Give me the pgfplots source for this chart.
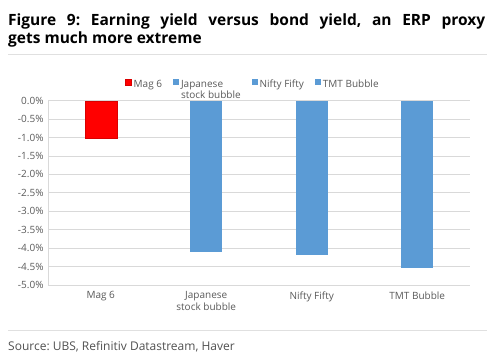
\documentclass[border=0pt]{standalone}
\usepackage{pgfplots}
\pgfplotsset{compat=1.18}
\usepackage{fontspec}
\setmainfont{Open Sans}
\frenchspacing
\definecolor{barblue}{HTML}{5B9BD5}
\definecolor{barred}{HTML}{FF0000}
\definecolor{gridgray}{HTML}{D9D9D9}
\definecolor{txtgray}{HTML}{595959}
\definecolor{rulegray}{HTML}{E0E0E0}
\begin{document}
\begin{tikzpicture}[x=1bp,y=1bp]
\path[use as bounding box] (0,0) rectangle (500,-362);
% title
\node[anchor=base west,inner sep=0pt] at (8,-25) {\fontsize{15.5bp}{18bp}\selectfont\bfseries\makebox[477bp][s]{Figure 9: Earning yield versus bond yield, an ERP proxy}};
\node[anchor=base west,inner sep=0pt] at (8,-43) {\fontsize{15.5bp}{18bp}\selectfont\bfseries gets much more extreme};
\draw[rulegray,line width=1bp] (8,-54) -- (487,-54);
\draw[rulegray,line width=1bp] (8,-330) -- (487,-330);
\node[anchor=base west,inner sep=0pt,text=txtgray!90!black] at (8,-350) {\fontsize{12bp}{14bp}\selectfont Source: UBS, Refinitiv Datastream, Haver};
\begin{axis}[
  at={(48bp,-100.7bp)}, anchor=north west,
  width=422bp, height=184.3bp, scale only axis,
  xmin=-0.5, xmax=3.5, ymin=-5, ymax=0,
  ytick={-5,-4.5,...,0},
  yticklabel={\pgfmathprintnumber[fixed,fixed zerofill,precision=1]{\tick}\%},
  /pgf/number format/assume math mode=true,
  xtick={0,1,2,3},
  xticklabels={Mag 6,{Japanese\\stock bubble},Nifty Fifty,TMT Bubble},
  xticklabel style={align=center,font=\fontsize{10bp}{11.5bp}\selectfont,text=txtgray,anchor=north,yshift=-3bp},
  xticklabel pos=lower,
  yticklabel style={font=\fontsize{10bp}{12bp}\selectfont,text=txtgray,xshift=-1bp},
  ymajorgrids, grid style={gridgray,line width=0.8bp},
  major tick length=0pt,
  axis line style={draw=none},
  ybar, bar width=32bp, bar shift=0pt,
  legend style={draw=none,fill=none,legend columns=4,at={(0.5,1.0)},anchor=north,yshift=25bp,xshift=-6bp,
    font=\fontsize{10bp}{11.5bp}\selectfont,text=txtgray,
    /tikz/every even column/.append style={column sep=9bp}},
  legend cell align=left,
  legend image code/.code={\fill[#1] (0,-0.5bp) rectangle (6bp,5.5bp);},
]
\draw[gridgray,line width=0.8bp] (axis cs:-0.5,-5) -- (axis cs:-0.5,0);
\draw[gridgray,line width=0.8bp] (axis cs:-0.5,-5) -- (axis cs:3.5,-5);
\addplot[fill=barred,draw=barred!85!black,line width=0.3bp] coordinates {(0,-1.01)};
\addplot[fill=barblue,draw=none] coordinates {(1,-4.11)};
\addplot[fill=barblue,draw=none] coordinates {(2,-4.18)};
\addplot[fill=barblue,draw=none] coordinates {(3,-4.53)};
\legend{Mag 6,{\begin{tabular}[t]{@{}l@{}}Japanese\\[-1bp]stock bubble\end{tabular}},Nifty Fifty,TMT Bubble}
\end{axis}
\end{tikzpicture}
\end{document}
